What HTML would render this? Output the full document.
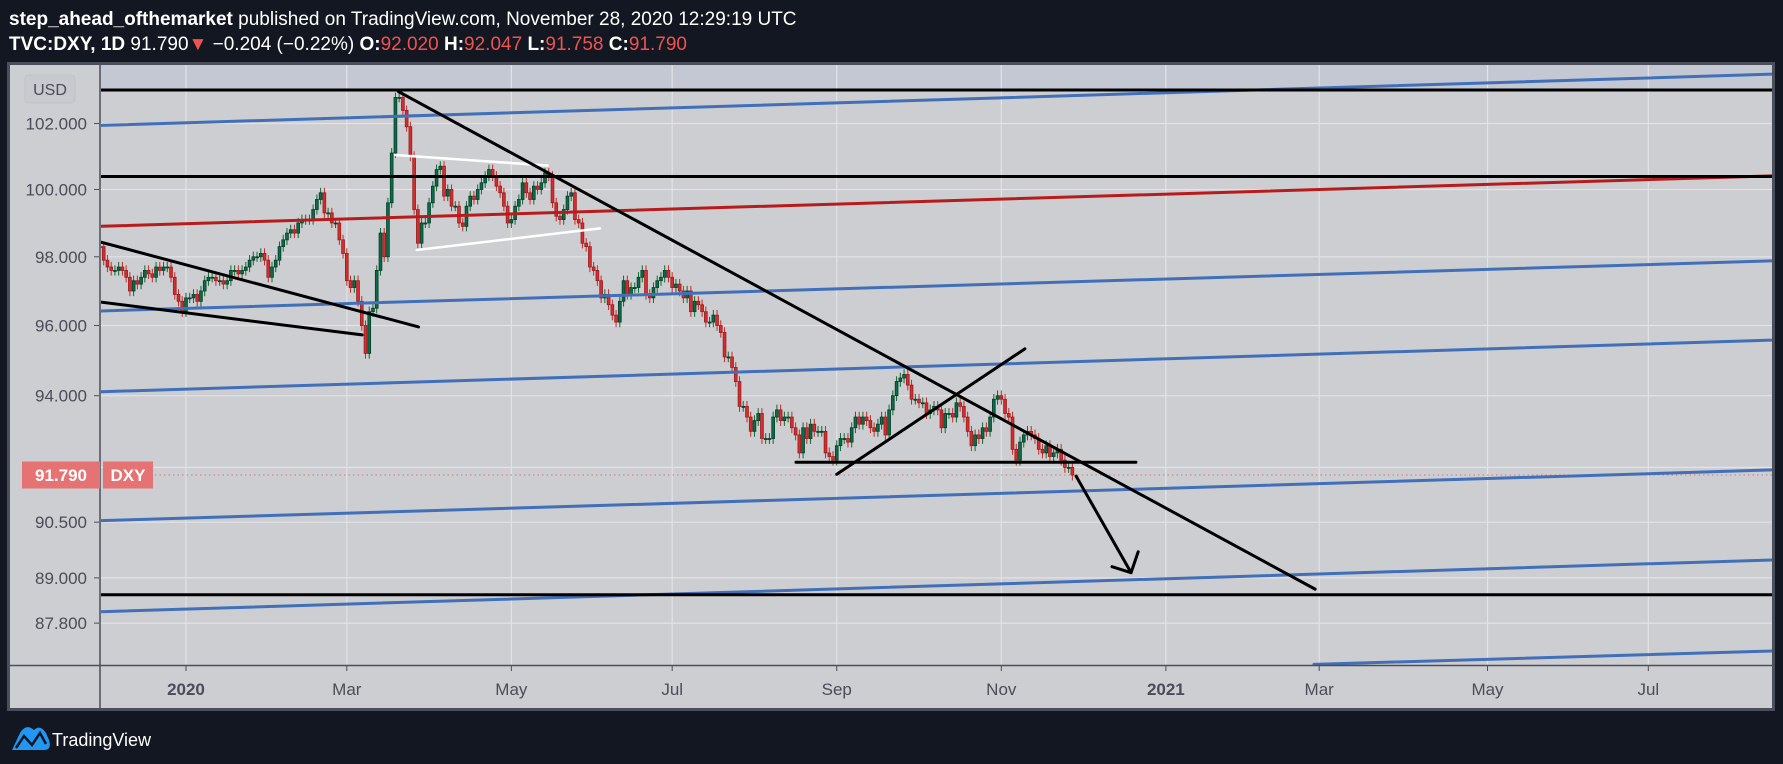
<!DOCTYPE html>
<html><head><meta charset="utf-8">
<style>
html,body{margin:0;padding:0;background:#131722;}
svg{display:block;font-family:"Liberation Sans",sans-serif;}
</style></head>
<body>
<svg id="c" width="1783" height="764" viewBox="0 0 1783 764" xmlns="http://www.w3.org/2000/svg">
<rect x="0" y="0" width="1783" height="764" fill="#131722"/>
<text x="9" y="25" font-size="19" fill="#ffffff"><tspan font-weight="bold">step_ahead_ofthemarket</tspan> published on TradingView.com, November 28, 2020 12:29:19 UTC</text>
<text x="9" y="50" font-size="19" fill="#ffffff"><tspan font-weight="bold">TVC:DXY, 1D</tspan> 91.790<tspan fill="#ef5350">▼</tspan> −0.204 (−0.22%) <tspan font-weight="bold">O:</tspan><tspan fill="#ef5350">92.020</tspan> <tspan font-weight="bold">H:</tspan><tspan fill="#ef5350">92.047</tspan> <tspan font-weight="bold">L:</tspan><tspan fill="#ef5350">91.758</tspan> <tspan font-weight="bold">C:</tspan><tspan fill="#ef5350">91.790</tspan></text>
<rect x="8.5" y="63.5" width="1765" height="646" fill="#cdced2" stroke="#4b4f5b" stroke-width="3"/>
<rect x="100" y="65" width="1672" height="25" fill="#c4c8d3"/>
<g id="grid"></g>
<g id="yaxis"></g>
<g id="xaxis"></g>
<defs><clipPath id="plotclip"><rect x="101" y="65" width="1671" height="600"/></clipPath></defs>
<g clip-path="url(#plotclip)">
<g id="candles"></g>
<g id="drawings"></g>
</g>
<line x1="100" y1="65" x2="100" y2="708" stroke="#4b4f5b" stroke-width="1.5"/>
<line x1="10" y1="665.5" x2="1772" y2="665.5" stroke="#4b4f5b" stroke-width="1.5"/>
<rect x="25" y="75" width="50" height="28" rx="4" fill="#c9cacf" stroke="#c0c2c8"/>
<text x="50" y="95" font-size="16" fill="#4a4d57" text-anchor="middle">USD</text>
<g id="lasttag"></g>
<g>
<path d="M12 750 L20 733 Q26 723 34 730 Q40 724 46 733 L49 740 Q52 750 44 750 Z" fill="#2196f3"/>
<polyline points="16,748 24,736 32,745 40,733 46,744" fill="none" stroke="#131722" stroke-width="2.5"/>
<text x="52" y="746" font-size="18" fill="#ffffff">TradingView</text>
</g>
</svg>
<script>
// ---- data ----
const closes = [
98.3,98.3,98.4,98.3,98.3, 97.9,97.7,97.6,97.6,97.7, 97.6,97.4,97.0,97.3,97.2, 97.4,97.6,97.5,97.4,97.7,
97.6,97.7,97.7,97.4,96.9, 96.7,96.4,96.8,96.8,96.9, 96.7,97.0,97.3,97.4,97.4, 97.3,97.3,97.2,97.3,97.6,
97.6,97.5,97.6,97.7,97.9, 98.0,98.0,98.1,97.9,97.4, 97.7,97.9,98.3,98.5,98.7, 98.8,98.7,99.0,99.1,99.1,
99.1,99.4,99.7,99.9,99.3, 99.3,99.0,99.0,98.5,98.1, 97.3,97.1,97.3,96.7,96.0, 95.2,96.4,96.5,97.6,98.7,
98.0,99.6,101.1,102.8,102.8, 102.4,101.9,101.0,99.4,98.4, 99.0,99.0,99.6,100.1,100.6, 100.7,99.8,100.0,99.5,99.5,
99.0,98.9,99.5,99.8,99.7, 100.0,100.2,100.4,100.6,100.4, 100.1,99.9,99.5,99.0,99.1, 99.5,99.7,100.2,99.9,99.7,
100.1,100.0,100.2,100.5,100.4, 99.6,99.2,99.1,99.4,99.8, 99.9,99.1,99.0,98.4,98.3, 97.7,97.6,97.3,96.8,96.9,
96.6,96.3,96.1,96.7,97.3, 96.9,97.1,97.1,97.4,97.6, 96.9,96.8,97.1,97.3,97.4, 97.6,97.4,97.1,97.2,97.0,
96.8,97.0,96.4,96.7,96.6, 96.4,96.1,96.1,96.3,96.0, 95.8,95.1,95.1,94.8,94.4, 93.7,93.7,93.4,93.0,93.3,
93.5,92.8,92.8,92.8,93.4, 93.6,93.3,93.4,93.4,93.1, 92.9,92.4,93.1,92.8,93.2, 93.0,93.0,93.0,92.4,92.3,
92.2,92.6,92.8,92.8,92.7, 93.1,93.4,93.2,93.4,93.3, 93.1,93.0,93.2,93.4,92.9, 93.6,94.0,94.4,94.5,94.6,
94.3,93.9,93.9,93.8,93.8, 93.5,93.6,93.7,93.6,93.1, 93.5,93.5,93.4,93.8,93.7, 93.4,93.0,92.6,92.9,92.8,
93.1,93.0,93.4,93.9,94.0, 93.9,93.5,93.4,92.5,92.2, 92.7,92.9,93.0,92.9,92.8, 92.5,92.4,92.6,92.3,92.4,
92.5,92.2,92.0,92.0,91.79
];
const firstOpen = 98.3;
const wick = 0.15;
const priceTicks = [102, 100, 98, 96, 94, 92, 90.5, 89, 87.8];
const priceTickLabels = ["102.000","100.000","98.000","96.000","94.000","","90.500","89.000","87.800"];
const timeTickIdx = [27, 70, 114, 157, 201, 245, 289, 330, 375, 418];
const timeTickLabels = ["2020","Mar","May","Jul","Sep","Nov","2021","Mar","May","Jul"];
const timeTickBold = [true,false,false,false,false,false,true,false,false,false];
const lastPrice = 91.79;
// trend lines [idx1, price1, idx2, price2]
const blueLines = [[4,101.94,451.1,103.52],[4,96.42,450.8,97.88],[4,94.11,450.8,95.58],[4,90.54,451.1,91.93],[4,88.10,451.1,89.48],[328.6,86.72,451.1,87.07]];
const redLines = [[4,98.90,451.1,100.41]];
const blackLines = [[4,103.03,451.1,103.03],[4,100.39,451.1,100.39],[4,88.55,451.1,88.55],[190.1,92.14,281.0,92.14],
 [83.8,102.98,328.9,88.70],[201.0,91.81,251.3,95.33],[4,98.44,89.2,95.96],[4,96.68,74.1,95.73],
 [265.0,91.76,279.7,89.14],[274.6,89.30,279.7,89.14],[281.6,89.70,279.7,89.14]];
const whiteLines = [[82.9,101.04,123.7,100.72],[88.7,98.20,137.7,98.84]];

// ---- scales ----
function xs(i){ return 85 + i*3.74; }
function ys(p){ return 395.7 - 3333*Math.log(p/94); }
const NS = "http://www.w3.org/2000/svg";
function mk(tag, attrs, parent){ const e=document.createElementNS(NS,tag); for(const k in attrs) e.setAttribute(k,attrs[k]); parent.appendChild(e); return e; }

const grid = document.getElementById('grid');
const yaxis = document.getElementById('yaxis');
priceTicks.forEach((p,k)=>{
  const y = ys(p);
  const gl = mk('line',{x1:100,x2:1772,y1:y,y2:y,stroke:'#e2e3e7','stroke-width':1.2},grid);
  
  
  if(priceTickLabels[k]){
    const tm = mk('line',{x1:94,x2:99,y1:y,y2:y,stroke:'#4a4d57','stroke-width':1},yaxis);
    
    
    const t = mk('text',{x:87,y:y+6,'font-size':17,fill:'#4a4d57','text-anchor':'end'},yaxis);
    t.textContent = priceTickLabels[k];
    
    
  }
});
const xaxis = document.getElementById('xaxis');
timeTickIdx.forEach((i,k)=>{
  const x = xs(i);
  const gl = mk('line',{x1:x,x2:x,y1:65,y2:665,stroke:'#e2e3e7','stroke-width':1.2},grid);
  
  
  const tm = mk('line',{x1:x,x2:x,y1:666,y2:671,stroke:'#4a4d57','stroke-width':1},xaxis);
  
  
  const t = mk('text',{x:x,y:695,'font-size':17,fill:'#4a4d57','text-anchor':'middle','font-weight':timeTickBold[k]?'bold':'normal'},xaxis);
  t.textContent = timeTickLabels[k];
  
  
});

// last price dotted line
const lp = mk('line',{x1:155,x2:1772,y1:ys(lastPrice),y2:ys(lastPrice),stroke:'#e57373','stroke-width':1,'stroke-dasharray':'1.5,3'},grid);



// candles
const cg = document.getElementById('candles');
closes.forEach((c,i)=>{
  const o = i===0 ? firstOpen : closes[i-1];
  const hi = Math.max(o,c)+wick, lo = Math.min(o,c)-wick;
  const up = c>=o;
  const x = xs(i);
  const w = mk('line',{x1:x,x2:x,y1:ys(hi),y2:ys(lo),stroke:up?'#0e6b2e':'#c62828','stroke-width':1},cg);
  
  
  const yt = ys(Math.max(o,c)), yb = ys(Math.min(o,c));
  const b = mk('rect',{x:x-1.4,y:yt,width:2.8,height:Math.max(1,yb-yt),fill:up?'#0b6b4a':'#d32f2f',stroke:up?'#063d2a':'#9a1b1b','stroke-width':0.8},cg);
  
  
});

// drawings
const dg = document.getElementById('drawings');
function drawSet(set, color, width, name){
  set.forEach(l=>{
    const e = mk('line',{x1:xs(l[0]),y1:ys(l[1]),x2:xs(l[2]),y2:ys(l[3]),stroke:color,'stroke-width':width,'stroke-linecap':'round'},dg);
    
    
  });
}
drawSet(blueLines,'#4170b8',3,'blue-channel-line');
drawSet(redLines,'#b71c1c',3,'red-trend-line');
drawSet(whiteLines,'#ffffff',2.5,'white-flag-line');
drawSet(blackLines,'#000000',3,'black-trend-line');

// last price tag
const tg = document.getElementById('lasttag');
const ty = ys(lastPrice);
const r1 = mk('rect',{x:22,y:ty-13.5,width:78,height:27,fill:'#e57373'},tg);


const r2 = mk('rect',{x:103,y:ty-13.5,width:50,height:27,fill:'#e57373'},tg);


const t1 = mk('text',{x:61,y:ty+6,'font-size':17,'font-weight':'bold',fill:'#ffffff','text-anchor':'middle'},tg);
t1.textContent = lastPrice.toFixed(3);


const t2 = mk('text',{x:128,y:ty+6,'font-size':17,'font-weight':'bold',fill:'#ffffff','text-anchor':'middle'},tg);
t2.textContent = 'DXY';


</script>
</body></html>
